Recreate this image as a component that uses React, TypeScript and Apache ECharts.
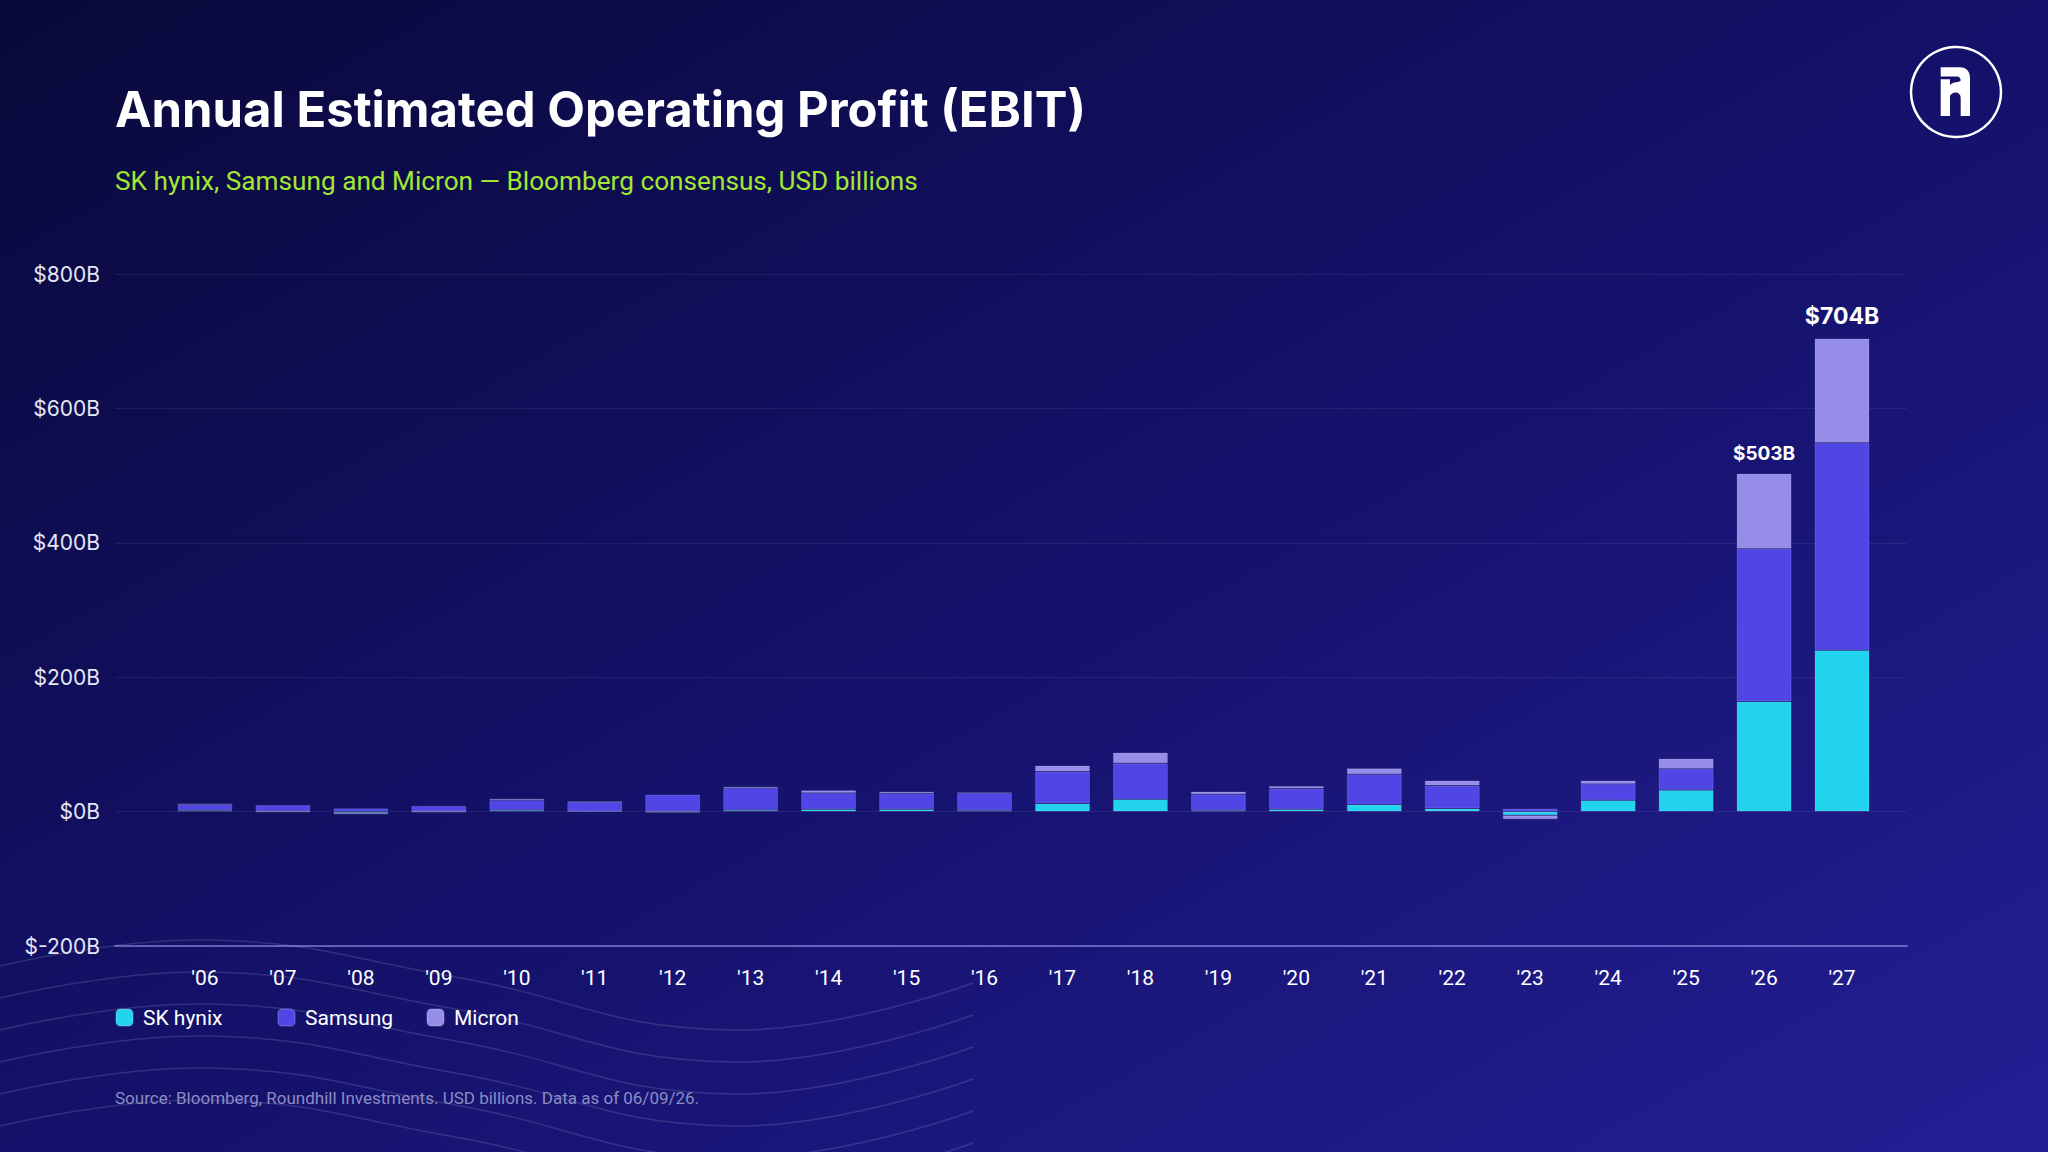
import React, { useEffect, useRef } from "react";
import * as echarts from "echarts";

// ---------- data ----------
const years = ["'06", "'07", "'08", "'09", "'10", "'11", "'12", "'13", "'14", "'15", "'16", "'17", "'18", "'19", "'20", "'21", "'22", "'23", "'24", "'25", "'26", "'27"];
const skHynix = [2, 0.5, -2, 0.2, 2.5, 0.3, -0.3, 2.5, 3.5, 3.5, 2, 11.9, 18.4, 2, 3.5, 10.4, 4.5, -5.5, 16.9, 32.3, 164, 240];
const samsung = [8.9, 9.3, 5, 8.4, 14.9, 14.2, 25.3, 32.7, 24.3, 23.8, 25.8, 47.7, 53.6, 23.8, 30.8, 45.2, 34.3, 4.5, 24.3, 31.3, 227, 309];
const micron = [0.5, -0.5, -2.5, -1, 2, 0.4, -1.2, 2, 4, 2.5, 0.5, 8.9, 15.9, 4, 3.9, 8.9, 7.4, -6, 5, 15.3, 112, 155];
const seriesNames = ["SK hynix", "Samsung", "Micron"];
const seriesColors = ["#22d3ee", "#4f46e5", "#958de8"];
const totalLabelYears = ["'26", "'27"];
const yMin = -200;
const yMax = 800;
const yStep = 200;

const TITLE = "Annual Estimated Operating Profit (EBIT)";
const SUBTITLE = "SK hynix, Samsung and Micron \u2014 Bloomberg consensus, USD billions";
const SOURCE = "Source: Bloomberg, Roundhill Investments. USD billions. Data as of 06/09/26.";

// ---------- logo glyph ----------
const LOGO_D =
  "M0,0 H58 C77,0 88,13 88,32 V146 H60 V92 C60,82 53,76 44,76 C37,76 31,80 28,86 V146 H0 V36 H28 V55 C31,50 36,47 42,46 C50,45 58,44 60,40 C60,34 56,28 50,28 H0 Z";
echarts.graphic.registerShape("roundhillLogo", echarts.graphic.extendPath(LOGO_D, {}));

// decorative wave key points (first wave); others are offset copies
const waveKeyPoints: number[][] = [
  [0, 966],
  [210, 940],
  [450, 976],
  [733, 1030],
  [973, 983],
];
const waveOffsets = [0, 32, 64, 96, 128, 160];

export default function App() {
  const ref = useRef<HTMLDivElement>(null);

  useEffect(() => {
    document.body.style.margin = "0";
    document.body.style.overflow = "hidden";
    const chart = echarts.init(ref.current as HTMLDivElement, null, { renderer: "svg" });

    const seriesData = [skHynix, samsung, micron];
    const totals = years.map((_, i) =>
      Math.round(seriesData.reduce((s, arr) => s + Math.max(0, arr[i]), 0))
    );

    const labelSizes = [19, 23];

    const series = seriesNames.map((name, si) => ({
      name,
      type: "bar",
      xAxisIndex: 1,
      yAxisIndex: 1,
      stack: "total",
      barWidth: 55,
      itemStyle: {
        color: seriesColors[si],
        borderColor: "rgba(255,255,255,0.14)",
        borderWidth: 1,
      },
      emphasis: { disabled: true },
      data: seriesData[si].map((v, i) => {
        const li = totalLabelYears.indexOf(years[i]);
        if (si !== seriesNames.length - 1 || li < 0) return v;
        return {
          value: v,
          label: {
            show: true,
            position: "top",
            distance: 11,
            formatter: `$${totals[i]}B`,
            color: "#ffffff",
            fontFamily: "Inter",
            fontWeight: 700,
            fontSize: labelSizes[li],
          },
        };
      }),
    }));

    const legendLefts = [115, 277, 426];

    const waves = waveOffsets.map((off) => ({
      type: "polyline",
      silent: true,
      z: 0,
      shape: {
        points: waveKeyPoints.map(([x, y]) => [x, y + off]),
        smooth: 0.45,
      },
      style: { stroke: "rgba(255,255,255,0.13)", lineWidth: 1.5, fill: null },
    }));

    chart.setOption({
      animation: false,
      backgroundColor: {
        type: "linear",
        x: 0,
        y: 0,
        x2: 1,
        y2: 1,
        colorStops: [
          { offset: 0, color: "#09093a" },
          { offset: 0.5, color: "#14116a" },
          { offset: 1, color: "#231f94" },
        ],
      },
      grid: [
        { left: 115, right: 141, top: 274, bottom: 206 },
        { left: 166, right: 167, top: 274, bottom: 206 },
      ],
      xAxis: [
        {
          gridIndex: 0,
          type: "value",
          min: 0,
          max: 1,
          axisLabel: { show: false },
          axisTick: { show: false },
          splitLine: { show: false },
          axisLine: { show: true, onZero: false, lineStyle: { color: "rgba(170,165,255,0.5)", width: 2 } },
        },
        {
          gridIndex: 1,
          type: "category",
          data: years,
          axisLine: { show: false },
          axisTick: { show: false },
          axisLabel: { color: "#ffffff", fontSize: 21, fontFamily: "Roboto", margin: 21 },
        },
      ],
      yAxis: [
        {
          gridIndex: 0,
          type: "value",
          min: yMin,
          max: yMax,
          interval: yStep,
          axisLine: { show: false },
          axisTick: { show: false },
          axisLabel: {
            formatter: (v: number) => `$${v}B`,
            color: "#e6e6f5",
            fontSize: 21,
            fontFamily: "Inter",
            margin: 15,
          },
          splitLine: { lineStyle: { color: "rgba(255,255,255,0.07)", width: 1 } },
        },
        {
          gridIndex: 1,
          type: "value",
          min: yMin,
          max: yMax,
          interval: yStep,
          show: false,
          splitLine: { show: false },
        },
      ],
      legend: seriesNames.map((name, i) => ({
        left: legendLefts[i],
        top: 1007,
        padding: 0,
        data: [name],
        icon: "roundRect",
        itemWidth: 17,
        itemHeight: 17,
        selectedMode: false,
        textStyle: { color: "#ffffff", fontSize: 21, fontFamily: "Roboto", padding: [0, 0, 0, 5] },
      })),
      series,
      graphic: [
        ...waves,
        {
          type: "text",
          x: 115,
          y: 109,
          style: {
            text: TITLE,
            fill: "#ffffff",
            fontSize: 49,
            fontWeight: 700,
            fontFamily: "Inter",
            verticalAlign: "middle",
          },
        },
        {
          type: "text",
          x: 115,
          y: 181,
          style: {
            text: SUBTITLE,
            fill: "#a3e635",
            fontSize: 26.2,
            fontFamily: "Roboto",
            verticalAlign: "middle",
          },
        },
        {
          type: "text",
          x: 115,
          y: 1098,
          style: {
            text: SOURCE,
            fill: "#8d8bc2",
            fontSize: 17,
            fontFamily: "Roboto",
            verticalAlign: "middle",
          },
        },
        {
          type: "circle",
          shape: { cx: 1956, cy: 92, r: 45 },
          style: { stroke: "#ffffff", lineWidth: 2.5, fill: null },
        },
        {
          type: "roundhillLogo",
          x: 1940.7,
          y: 67.3,
          scaleX: 1 / 3,
          scaleY: 1 / 3,
          style: { fill: "#ffffff" },
        },
      ],
    });

    return () => chart.dispose();
  }, []);

  return <div ref={ref} style={{ width: 2048, height: 1152 }} />;
}
